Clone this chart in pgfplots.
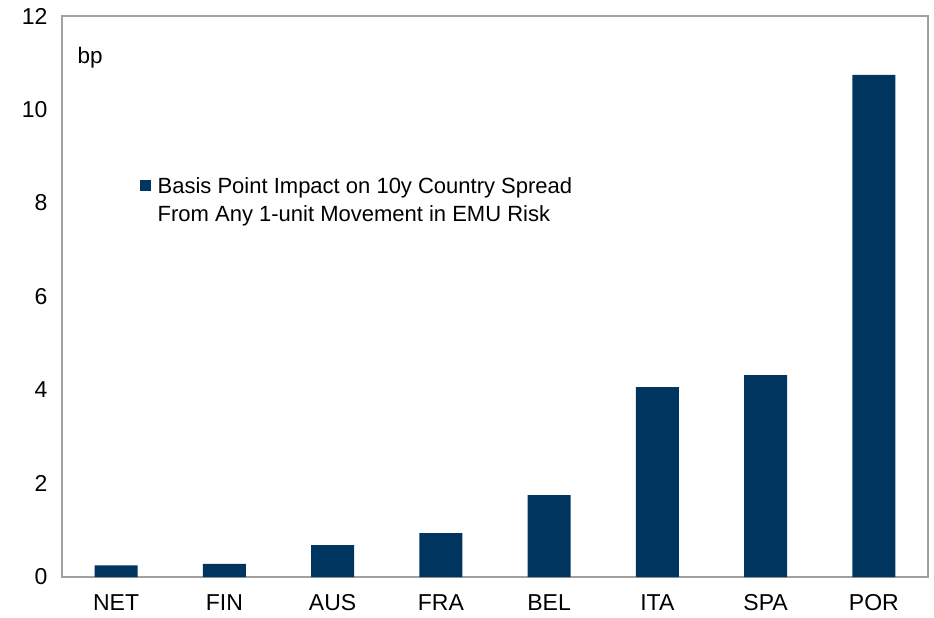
\documentclass[border=0pt]{standalone}
\usepackage{pgfplots}
\pgfplotsset{compat=1.18}
\usepackage{fontspec}
\setmainfont{Liberation Sans}
\definecolor{barnavy}{RGB}{0,53,96}
\definecolor{axisgray}{RGB}{160,160,160}

\begin{document}
\begin{tikzpicture}
\begin{axis}[
  at={(0,0)}, anchor=south west,
  scale only axis,
  width=866pt, height=561pt,
  xmin=-0.5, xmax=7.5,
  ymin=0, ymax=12,
  ytick={0,2,...,12},
  xtick={0,...,7},
  xticklabels={NET,FIN,AUS,FRA,BEL,ITA,SPA,POR},
  major tick length=0pt,
  axis line style={draw=axisgray, line width=1.2pt},
  tick label style={font=\fontsize{23}{27}\selectfont},
  /pgf/number format/assume math mode=true,
  yticklabel style={xshift=-11pt},
  xticklabel style={yshift=-14pt},
  legend style={draw=none, fill=none, at={(0.086,0.72)}, anchor=north west,
    font=\fontsize{22}{26}\selectfont, row sep=7pt,
    /tikz/every even column/.append style={column sep=2pt}},
  legend cell align=left,
  legend image code/.code={\fill[barnavy] (0pt,-5.5pt) rectangle (11pt,6pt);},
  legend columns=1,
]
\addplot[ybar, bar width=0.395, fill=barnavy, draw=none] coordinates {
  (0,0.25) (1,0.28) (2,0.68) (3,0.94) (4,1.75) (5,4.06) (6,4.32) (7,10.74)
};
\addlegendentry{\hspace{5pt}Basis Point Impact on 10y Country Spread}
\addlegendimage{empty legend}
\addlegendentry{\hspace{5pt}From Any 1-unit Movement in EMU Risk}
\node[anchor=west, font=\fontsize{22.5}{27}\selectfont] at (rel axis cs:0.014,0.925) {bp};
\end{axis}
\pgfresetboundingbox
\path[use as bounding box] (-62pt,-41pt) rectangle (872pt,577pt);
\end{tikzpicture}
\end{document}
